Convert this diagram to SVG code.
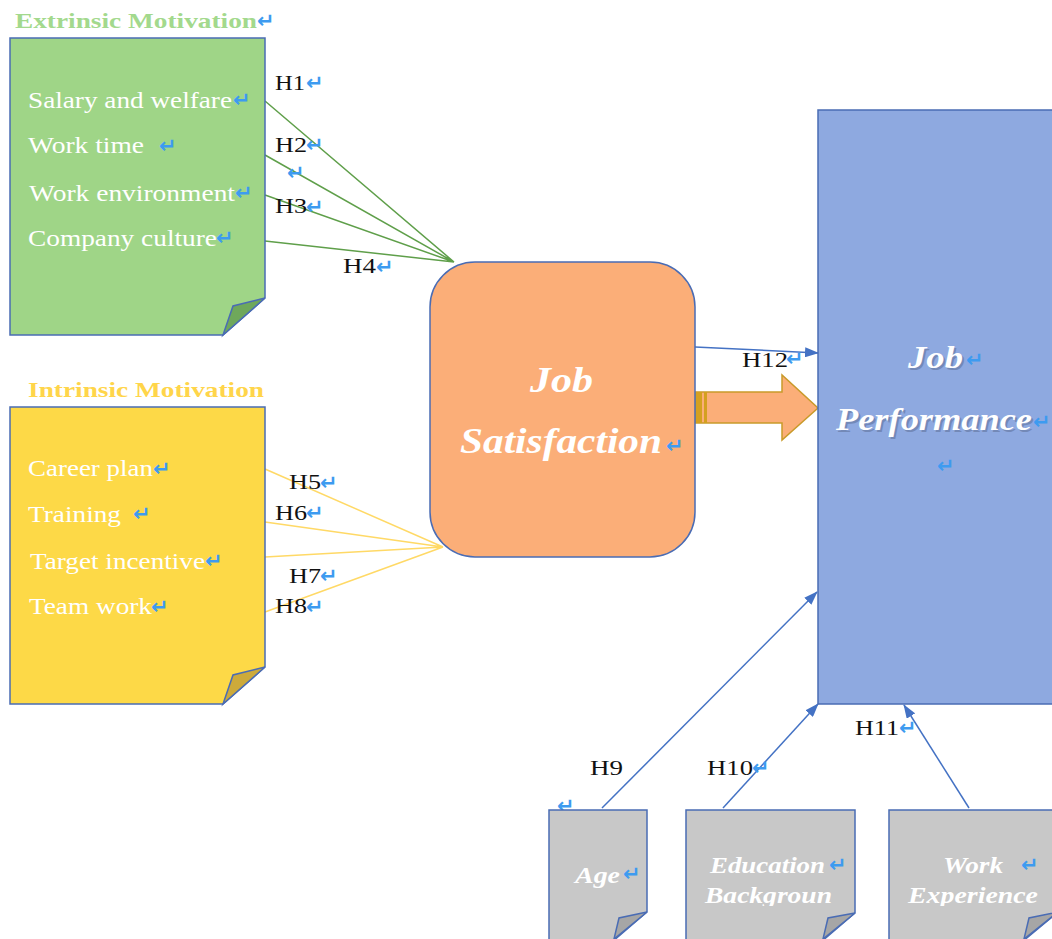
<svg xmlns="http://www.w3.org/2000/svg" width="1052" height="939" viewBox="0 0 1052 939">
<style>
.box{stroke:#4a6cb4;stroke-width:1.5}
.lbl{font-family:"Liberation Serif","Times New Roman",serif;font-size:24px;fill:#fff}
.ttl{font-family:"Liberation Serif","Times New Roman",serif;font-size:22px;font-weight:bold}
.h{font-family:"Liberation Serif","Times New Roman",serif;font-size:22px;fill:#111}
.bi{font-family:"Liberation Serif","Times New Roman",serif;font-weight:bold;font-style:italic;fill:#fff}
.rt{font-family:"DejaVu Sans",sans-serif;font-size:21px;font-weight:bold;fill:#3d9bf0}
.gl{stroke:#5f9f4a;stroke-width:1.5;fill:none}
.yl{stroke:#ffd966;stroke-width:1.5;fill:none}
.bl{stroke:#4472c4;stroke-width:1.5;fill:none}
</style>
<defs>
<marker id="ah" markerUnits="userSpaceOnUse" markerWidth="14" markerHeight="10" refX="13" refY="5" orient="auto">
<path d="M0,0 L14,5 L0,10 Z" fill="#4472c4"/>
</marker>
<clipPath id="bc"><rect x="540" y="800" width="520" height="106"/></clipPath>
</defs>
<rect width="1052" height="939" fill="#fff"/>

<g id="connectors">
<path class="gl" d="M265,101 L454,262 M265,155 L454,262 M265,195 L454,262 M265,241 L454,262"/>
<path class="yl" d="M265,469 L443,547 M265,522 L443,547 M265,557 L443,547 M265,612 L443,547"/>
<path class="bl" d="M695,347 L818,353" marker-end="url(#ah)"/>
<path class="bl" d="M602,808 L817,592" marker-end="url(#ah)"/>
<path class="bl" d="M723,808 L818,704" marker-end="url(#ah)"/>
<path class="bl" d="M969,808 L904,705" marker-end="url(#ah)"/>
<g id="block-arrow">
<path d="M695,392 H782 V375 L818,408 L782,440 V423 H695 Z" fill="#fbae78" stroke="#c99a2a" stroke-width="1.5"/>
<rect x="695" y="392" width="7" height="31" fill="#d4a020"/>
<rect x="704" y="392" width="3" height="31" fill="#d4a020"/>
</g>
<g id="hlabels">
<text class="h" x="275" y="90" textLength="30" lengthAdjust="spacingAndGlyphs">H1</text><text class="rt" x="306" y="90">↵</text>
<text class="h" x="275" y="152" textLength="32" lengthAdjust="spacingAndGlyphs">H2</text><text class="rt" x="306" y="152">↵</text>
<text class="rt" x="287" y="180">↵</text>
<text class="h" x="275" y="213" textLength="32" lengthAdjust="spacingAndGlyphs">H3</text><text class="rt" x="306" y="214">↵</text>
<text class="h" x="343" y="273" textLength="33" lengthAdjust="spacingAndGlyphs">H4</text><text class="rt" x="376" y="274">↵</text>
<text class="h" x="289" y="489" textLength="32" lengthAdjust="spacingAndGlyphs">H5</text><text class="rt" x="320" y="490">↵</text>
<text class="h" x="275" y="520" textLength="32" lengthAdjust="spacingAndGlyphs">H6</text><text class="rt" x="306" y="520">↵</text>
<text class="h" x="289" y="583" textLength="32" lengthAdjust="spacingAndGlyphs">H7</text><text class="rt" x="320" y="583">↵</text>
<text class="h" x="275" y="613" textLength="32" lengthAdjust="spacingAndGlyphs">H8</text><text class="rt" x="306" y="614">↵</text>
<text class="h" x="590" y="775" textLength="33" lengthAdjust="spacingAndGlyphs">H9</text>
<text class="h" x="707" y="775" textLength="46" lengthAdjust="spacingAndGlyphs">H10</text><text class="rt" x="752" y="775">↵</text>
<text class="h" x="855" y="735" textLength="44" lengthAdjust="spacingAndGlyphs">H11</text><text class="rt" x="899" y="735">↵</text>
<text class="h" x="742" y="367" textLength="46" lengthAdjust="spacingAndGlyphs">H12</text><text class="rt" x="786" y="366" font-size="17">↵</text>
<text class="rt" x="557" y="813" font-size="14">↵</text>
</g>
</g>

<g id="extrinsic">
<text class="ttl" x="15" y="28" fill="#a3d98d" textLength="242" lengthAdjust="spacingAndGlyphs">Extrinsic Motivation</text><text class="rt" x="257" y="28">↵</text>
<path class="box" d="M10,38 H265 V298 L223,335 H10 Z" fill="#9fd587"/>
<path class="box" d="M265,298 L233,306 L223,335 Z" fill="#6fa85b"/>
<text class="lbl" x="28" y="108" textLength="204" lengthAdjust="spacingAndGlyphs">Salary and welfare</text><text class="rt" x="233" y="107">↵</text>
<text class="lbl" x="28" y="153" textLength="116" lengthAdjust="spacingAndGlyphs">Work time</text><text class="rt" x="159" y="153">↵</text>
<text class="lbl" x="29" y="201" textLength="206" lengthAdjust="spacingAndGlyphs">Work environment</text><text class="rt" x="235" y="200">↵</text>
<text class="lbl" x="28" y="246" textLength="189" lengthAdjust="spacingAndGlyphs">Company culture</text><text class="rt" x="216" y="245">↵</text>
</g>

<g id="intrinsic">
<text class="ttl" x="28" y="397" fill="#ffd54a" textLength="236" lengthAdjust="spacingAndGlyphs">Intrinsic Motivation</text>
<path class="box" d="M10,407 H265 V667 L223,704 H10 Z" fill="#fdd947"/>
<path class="box" d="M265,667 L233,675 L223,704 Z" fill="#cdaa3a"/>
<text class="lbl" x="28" y="476" textLength="125" lengthAdjust="spacingAndGlyphs">Career plan</text><text class="rt" x="153" y="476">↵</text>
<text class="lbl" x="28" y="522" textLength="93" lengthAdjust="spacingAndGlyphs">Training</text><text class="rt" x="133" y="521">↵</text>
<text class="lbl" x="30" y="569" textLength="175" lengthAdjust="spacingAndGlyphs">Target incentive</text><text class="rt" x="205" y="568">↵</text>
<text class="lbl" x="29" y="614" textLength="123" lengthAdjust="spacingAndGlyphs">Team work</text><text class="rt" x="151" y="614">↵</text>
</g>

<g id="job-satisfaction">
<rect class="box" x="430" y="262" width="265" height="295" rx="45" fill="#fbae78"/>
<text class="bi" x="530" y="392" font-size="36" textLength="63" lengthAdjust="spacingAndGlyphs">Job</text>
<text class="bi" x="460" y="453" font-size="36" textLength="202" lengthAdjust="spacingAndGlyphs">Satisfaction</text><text class="rt" x="666" y="453">↵</text>
</g>

<g id="job-performance">
<rect class="box" x="818" y="110" width="250" height="594" fill="#8ea9e0"/>
<g fill="#5a6a90" opacity="0.5" font-family="Liberation Serif, serif" font-weight="bold" font-style="italic">
<text x="910" y="370" font-size="32" textLength="55" lengthAdjust="spacingAndGlyphs">Job</text>
<text x="838" y="432" font-size="32" textLength="196" lengthAdjust="spacingAndGlyphs">Performance</text>
</g>
<text class="bi" x="908" y="368" font-size="32" textLength="55" lengthAdjust="spacingAndGlyphs">Job</text><text class="rt" x="966" y="367">↵</text>
<text class="bi" x="836" y="430" font-size="32" textLength="196" lengthAdjust="spacingAndGlyphs">Performance</text><text class="rt" x="1033" y="429">↵</text>
<text class="rt" x="937" y="473">↵</text>
</g>

<g id="age">
<path class="box" d="M549,810 H647 V912 L612,942 H549 Z" fill="#c8c8c8"/>
<path class="box" d="M647,912 L619,918 L614,939 Z" fill="#a6a6a6"/>
<text class="bi" x="575" y="883" font-size="24" textLength="45" lengthAdjust="spacingAndGlyphs">Age</text><text class="rt" x="623" y="881">↵</text>
</g>

<g id="education">
<path class="box" d="M686,810 H855 V913 L821,942 H686 Z" fill="#c8c8c8"/>
<path class="box" d="M855,913 L828,918 L823,939 Z" fill="#a6a6a6"/>
<g clip-path="url(#bc)">
<text class="bi" x="710" y="873" font-size="24" textLength="115" lengthAdjust="spacingAndGlyphs">Education</text>
<text class="bi" x="705" y="903" font-size="24" textLength="127" lengthAdjust="spacingAndGlyphs">Backgroun</text>
</g>
<text class="rt" x="829" y="872">↵</text>
</g>

<g id="work-experience">
<path class="box" d="M889,810 H1058 V912 L1022,942 H889 Z" fill="#c8c8c8"/>
<path class="box" d="M1058,912 L1029,918 L1024,939 Z" fill="#a6a6a6"/>
<g clip-path="url(#bc)">
<text class="bi" x="943" y="873" font-size="24" textLength="60" lengthAdjust="spacingAndGlyphs">Work</text>
<text class="bi" x="908" y="903" font-size="24" textLength="130" lengthAdjust="spacingAndGlyphs">Experience</text>
</g>
<text class="rt" x="1021" y="872">↵</text>
</g>
</svg>
